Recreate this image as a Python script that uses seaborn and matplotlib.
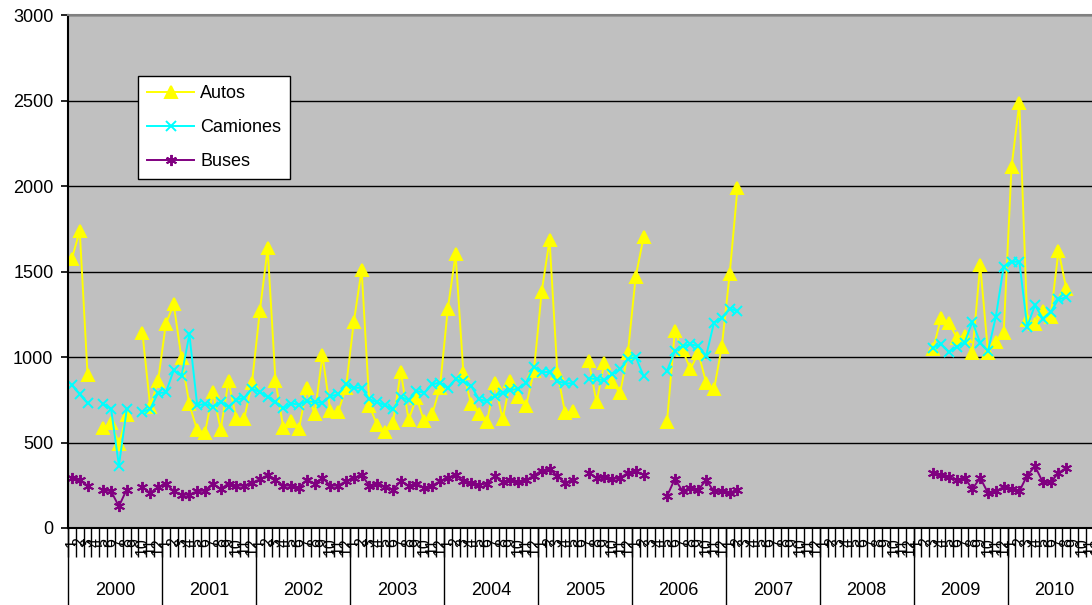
import numpy as np
import pandas as pd
import matplotlib.pyplot as plt
import matplotlib.transforms as mtransforms
import seaborn as sns

# ---------------------------------------------------------
# Datos mensuales 2000-2010 (nan = mes sin dato)
# ---------------------------------------------------------
nan = np.nan
years = list(range(2000, 2011))
month_labels = [str(m) for m in range(1, 13)]

autos = [
    1576, 1738, 894, nan, 586, 615, 492, 658, nan, 1142, 709, 859,       # 2000
    1195, 1308, 992, 723, 572, 557, 795, 576, 859, 639, 639, 850,        # 2001
    1269, 1635, 859, 586, 625, 580, 820, 664, 1010, 684, 678, 820,       # 2002
    1205, 1510, 713, 600, 561, 615, 914, 631, 762, 623, 664, 820,        # 2003
    1279, 1601, 904, 723, 664, 619, 850, 635, 859, 768, 713, 918,        # 2004
    1383, 1685, 908, 670, 684, nan, 976, 736, 967, 855, 787, 1021,       # 2005
    1469, 1699, nan, nan, 619, 1152, 1040, 928, 1025, 849, 810, 1060,    # 2006
    1484, 1986, nan, nan, nan, nan, nan, nan, nan, nan, nan, nan,        # 2007
    nan, nan, nan, nan, nan, nan, nan, nan, nan, nan, nan, nan,          # 2008
    nan, nan, 1049, 1230, 1201, 1113, 1123, 1025, 1539, 1025, 1090, 1142,  # 2009
    2109, 2486, 1217, 1191, 1269, 1236, 1621, 1400, nan, nan, nan, nan,  # 2010
]
camiones = [
    836, 781, 730, nan, 726, 697, 365, 693, nan, 678, 697, 789,
    793, 922, 889, 1133, 717, 726, 709, 736, 709, 750, 762, 814,
    795, 767, 736, 699, 728, 722, 742, 736, 732, 771, 781, 840,
    820, 820, 752, 736, 717, 693, 767, 748, 801, 791, 840, 850,
    820, 869, 859, 830, 752, 742, 771, 791, 807, 814, 850, 943,
    912, 912, 859, 846, 846, nan, 873, 873, 863, 898, 928, 986,
    1002, 889, nan, nan, 918, 1035, 1064, 1074, 1064, 1006, 1201, 1230,
    1283, 1269, nan, nan, nan, nan, nan, nan, nan, nan, nan, nan,
    nan, nan, nan, nan, nan, nan, nan, nan, nan, nan, nan, nan,
    nan, nan, 1055, 1074, 1029, 1060, 1084, 1205, 1084, 1035, 1236, 1529,
    1557, 1557, 1178, 1303, 1225, 1264, 1338, 1348, nan, nan, nan, nan,
]
buses = [
    293, 279, 248, nan, 225, 215, 127, 225, nan, 238, 205, 238,
    260, 215, 195, 195, 215, 219, 260, 228, 260, 248, 248, 264,
    285, 309, 279, 248, 248, 234, 283, 260, 293, 248, 248, 273,
    293, 309, 248, 260, 238, 225, 273, 248, 260, 234, 248, 273,
    293, 312, 273, 264, 254, 260, 303, 268, 279, 268, 279, 307,
    336, 346, 303, 264, 279, nan, 322, 293, 299, 287, 293, 322,
    332, 312, nan, nan, 186, 287, 215, 234, 225, 279, 215, 215,
    205, 225, nan, nan, nan, nan, nan, nan, nan, nan, nan, nan,
    nan, nan, nan, nan, nan, nan, nan, nan, nan, nan, nan, nan,
    nan, nan, 322, 309, 299, 279, 293, 229, 293, 205, 215, 240,
    229, 215, 307, 361, 268, 268, 322, 352, nan, nan, nan, nan,
]

series = {'Autos': autos, 'Camiones': camiones, 'Buses': buses}
colors = {'Autos': '#FFFF00', 'Camiones': '#00FFFF', 'Buses': '#800080'}
markers = {'Autos': '^', 'Camiones': 'x', 'Buses': (6, 2, 0)}
msizes = {'Autos': 9, 'Camiones': 7.5, 'Buses': 8}

# ---------------------------------------------------------
# Figura
# ---------------------------------------------------------
plt.rcParams['font.family'] = ['Liberation Sans', 'DejaVu Sans']
W, H = 1092, 605
fig = plt.figure(figsize=(W / 100, H / 100), dpi=100, facecolor='white')
n = len(autos)
ax = fig.add_axes([68 / W, 77 / H, n * 7.83 / W, 513 / H])
ax.set_facecolor('#C0C0C0')

# una llamada por serie; 'tramo' corta la línea donde falta el dato
for name, vals in series.items():
    s = pd.Series(vals, dtype=float)
    d = pd.DataFrame({'idx': np.arange(n), 'valor': s,
                      'tramo': s.isna().cumsum()}).dropna()
    sns.lineplot(data=d, x='idx', y='valor', units='tramo', estimator=None,
                 color=colors[name], marker=markers[name],
                 markersize=msizes[name], markeredgecolor=colors[name],
                 markerfacecolor=colors[name], markeredgewidth=1.4,
                 linewidth=1.4, label=name, legend=False, ax=ax)

# leyenda (una entrada por serie)
handles, labels = ax.get_legend_handles_labels()
uniq = {}
for h, l in zip(handles, labels):
    uniq.setdefault(l, h)
leg = fig.legend(list(uniq.values()), list(uniq.keys()), loc='upper left',
                 bbox_to_anchor=(138 / W, 1 - 76 / H), borderaxespad=0,
                 fontsize=13, frameon=True, fancybox=False, framealpha=1,
                 edgecolor='black', handlelength=2.6, handletextpad=0.35,
                 borderpad=0.5, labelspacing=0.95)
leg.get_frame().set_linewidth(1)
if ax.get_legend() is not None:
    ax.get_legend().remove()

# ejes
ax.set_xlim(-0.5, n - 0.5)
ax.set_ylim(0, 3000)
ax.set_xlabel('')
ax.set_ylabel('')
ax.set_yticks(range(0, 3001, 500))
ax.yaxis.grid(True, color='black', linewidth=1)
ax.xaxis.grid(False)
ax.set_axisbelow(True)
ax.tick_params(axis='y', direction='out', length=5, width=1.2, pad=5.5,
               labelsize=13, colors='black')

ax.set_xticks(np.arange(-0.5, n, 1))
ax.set_xticks(np.arange(n), labels=month_labels * len(years), minor=True)
ax.tick_params(axis='x', which='major', direction='out', length=21, width=1,
               labelbottom=False)
ax.tick_params(axis='x', which='minor', length=0, pad=7, labelsize=11.5,
               labelrotation=90)

for side in ['left', 'bottom']:
    ax.spines[side].set_color('black')
    ax.spines[side].set_linewidth(1.5)
ax.spines['top'].set_color('#808080')
ax.spines['top'].set_linewidth(1.5)
ax.spines['right'].set_visible(False)

# fila de años con separadores
trans = mtransforms.blended_transform_factory(ax.transData, ax.transAxes)
for k, yr in enumerate(years):
    ax.text(12 * k + 5.5, -0.121, str(yr), transform=trans, ha='center',
            va='center', fontsize=13)
for k in range(len(years) + 1):
    ax.plot([12 * k - 0.5] * 2, [0, -0.2], transform=trans, color='black',
            linewidth=1, clip_on=False)

fig.savefig('out.png', dpi=100, facecolor='white')
